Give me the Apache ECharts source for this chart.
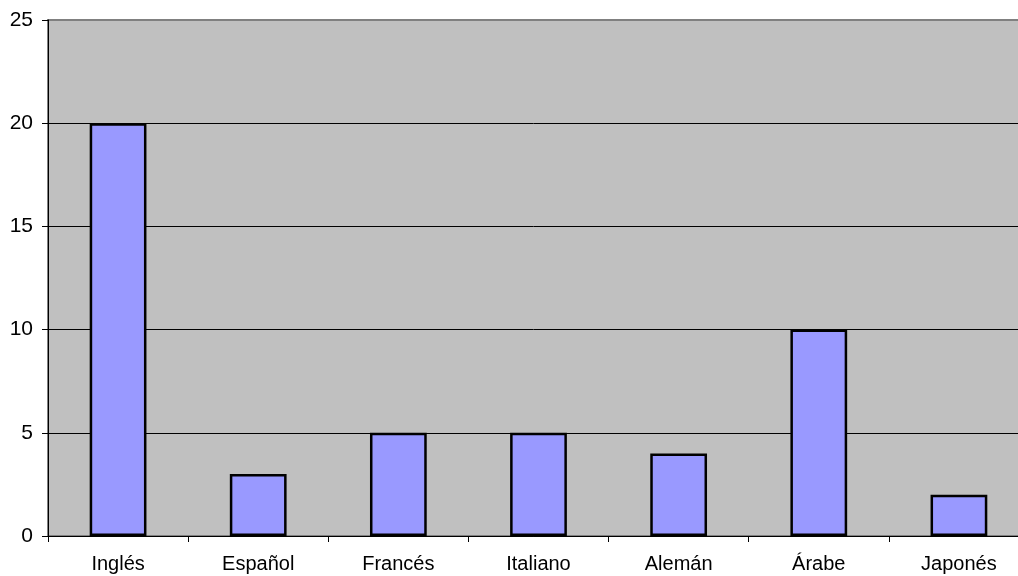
<!DOCTYPE html>
<html>
<head>
<meta charset="utf-8">
<script src="https://cdn.jsdelivr.net/npm/echarts@6/dist/echarts.min.js"></script>
<style>
  html, body { margin: 0; padding: 0; background: #fff; }
  #chart { width: 1018px; height: 576px; }
</style>
</head>
<body>
<div id="chart"></div>
<script>
var idiomas = ['Inglés', 'Español', 'Francés', 'Italiano', 'Alemán', 'Árabe', 'Japonés'];
var valores = [20, 3, 5, 5, 4, 10, 2];
var yTicks = [0, 5, 10, 15, 20, 25];

var myChart = echarts.init(document.getElementById('chart'));

var option = {
    animation: false,
    textStyle: { fontFamily: 'Liberation Sans, Arial, sans-serif' },
    grid: {
        left: 48,
        top: 20,
        width: 981,
        height: 516,
        outerBoundsMode: 'none',
        containLabel: false,
        show: true,
        backgroundColor: '#c0c0c0',
        borderColor: '#808080',
        borderWidth: 2
    },
    xAxis: {
        type: 'category',
        data: idiomas,
        boundaryGap: true,
        axisLine: { lineStyle: { color: '#000', width: 1 } },
        axisTick: { show: true, length: 6, lineStyle: { color: '#000' } },
        axisLabel: { color: '#000', fontSize: 20, margin: 18 }
    },
    yAxis: {
        type: 'value',
        min: yTicks[0],
        max: yTicks[yTicks.length - 1],
        interval: 5,
        axisLine: { show: true, lineStyle: { color: '#000', width: 1 } },
        axisTick: { show: true, length: 6, lineStyle: { color: '#000' } },
        axisLabel: { color: '#000', fontSize: 21, margin: 15 },
        splitLine: { show: true, showMaxLine: false, lineStyle: { color: '#000', width: 1 } }
    },
    series: [{
        type: 'bar',
        data: valores,
        barWidth: '40.5%',
        itemStyle: {
            color: '#9999ff',
            borderColor: '#000',
            borderWidth: 2.5
        }
    }]
};

myChart.setOption(option);
</script>
</body>
</html>
